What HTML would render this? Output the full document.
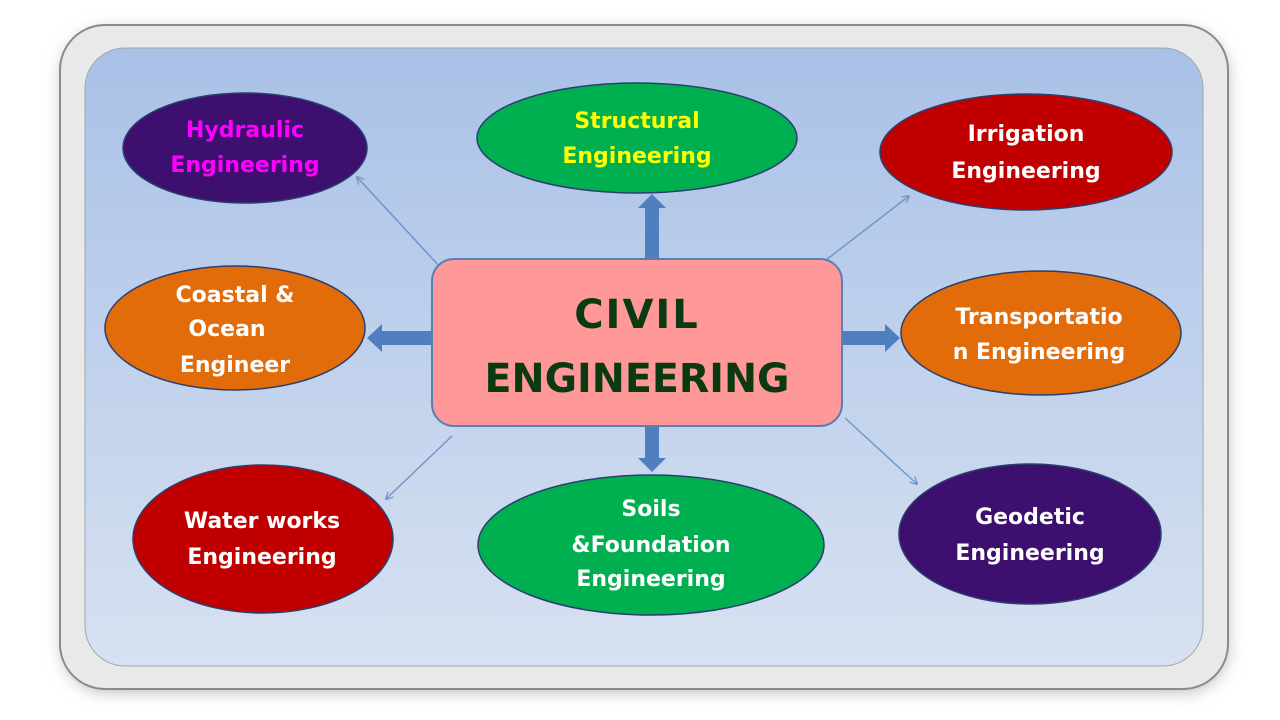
<!DOCTYPE html>
<html><head><meta charset="utf-8"><style>
html,body{margin:0;padding:0;background:#fff;width:1280px;height:720px;overflow:hidden}
text{font-family:"DejaVu Sans","Liberation Sans",sans-serif;font-weight:bold;text-anchor:middle}
</style></head><body>
<svg width="1280" height="720" viewBox="0 0 1280 720">
<defs>
<linearGradient id="bg" x1="0" y1="0" x2="0" y2="1">
<stop offset="0" stop-color="#a9c1e7"/><stop offset="1" stop-color="#d7e1f1"/></linearGradient>
<filter id="sh" x="-10%" y="-10%" width="120%" height="120%"><feGaussianBlur stdDeviation="8"/></filter>
<marker id="ah" markerWidth="8" markerHeight="8" refX="7" refY="4" orient="auto" markerUnits="userSpaceOnUse"><path d="M0,0 L8,4 L0,8" fill="none" stroke="#6f97cc" stroke-width="1.3"/></marker>
</defs>
<rect x="62" y="30" width="1166" height="662" rx="45" fill="#bbb" filter="url(#sh)"/>
<rect x="60" y="25" width="1168" height="664" rx="45" fill="#e9e9e9" stroke="#8a8a8a" stroke-width="2"/>
<rect x="85" y="48" width="1118" height="618" rx="40" fill="url(#bg)" stroke="#9aa" stroke-width="1"/>

<g stroke="#6f97cc" stroke-width="1.5" marker-end="url(#ah)">
<line x1="440" y1="267" x2="357" y2="177"/>
<line x1="826" y1="260" x2="909" y2="196"/>
<line x1="452" y1="436" x2="386" y2="499"/>
<line x1="845" y1="418" x2="917" y2="484"/>
</g>
<g fill="#4f7fbf">
<polygon points="645,259 645,208 638,208 652,194 666,208 659,208 659,259"/>
<polygon points="645,426 645,458 638,458 652,472 666,458 659,458 659,426"/>
<polygon points="432,331 382,331 382,324 367,338 382,352 382,345 432,345"/>
<polygon points="842,331 885,331 885,324 900,338 885,352 885,345 842,345"/>
</g>

<g stroke="#2b3f6e" stroke-width="1.5">
<ellipse cx="245" cy="148" rx="122" ry="55" fill="#3d0f6e"/>
<ellipse cx="637" cy="138" rx="160" ry="55" fill="#00b050"/>
<ellipse cx="1026" cy="152" rx="146" ry="58" fill="#c00000"/>
<ellipse cx="235" cy="328" rx="130" ry="62" fill="#e36c0a"/>
<ellipse cx="1041" cy="333" rx="140" ry="62" fill="#e36c0a"/>
<ellipse cx="263" cy="539" rx="130" ry="74" fill="#c00000"/>
<ellipse cx="651" cy="545" rx="173" ry="70" fill="#00b050"/>
<ellipse cx="1030" cy="534" rx="131" ry="70" fill="#3d0f6e"/>
</g>
<rect x="432" y="259" width="410" height="167" rx="22" fill="#ff9999" stroke="#5b7fb5" stroke-width="2"/>
<text x="637" y="328" font-size="40" fill="#0b3a12" letter-spacing="2">CIVIL</text>
<text x="637" y="392" font-size="40" fill="#0b3a12" textLength="305" lengthAdjust="spacingAndGlyphs">ENGINEERING</text>

<g font-size="22">
<text x="245" y="137" fill="#ff00ff">Hydraulic</text>
<text x="245" y="172" fill="#ff00ff">Engineering</text>
<text x="637" y="128" fill="#ffff00">Structural</text>
<text x="637" y="163" fill="#ffff00">Engineering</text>
<g fill="#fff">
<text x="1026" y="141">Irrigation</text>
<text x="1026" y="178">Engineering</text>
<text x="235" y="302">Coastal &amp;</text>
<text x="227" y="336">Ocean</text>
<text x="235" y="372">Engineer</text>
<text x="1039" y="324">Transportatio</text>
<text x="1039" y="359">n Engineering</text>
<text x="262" y="528">Water works</text>
<text x="262" y="564">Engineering</text>
<text x="651" y="516">Soils</text>
<text x="651" y="552">&amp;Foundation</text>
<text x="651" y="586">Engineering</text>
<text x="1030" y="524">Geodetic</text>
<text x="1030" y="560">Engineering</text>
</g>
</g>
</svg>
</body></html>
